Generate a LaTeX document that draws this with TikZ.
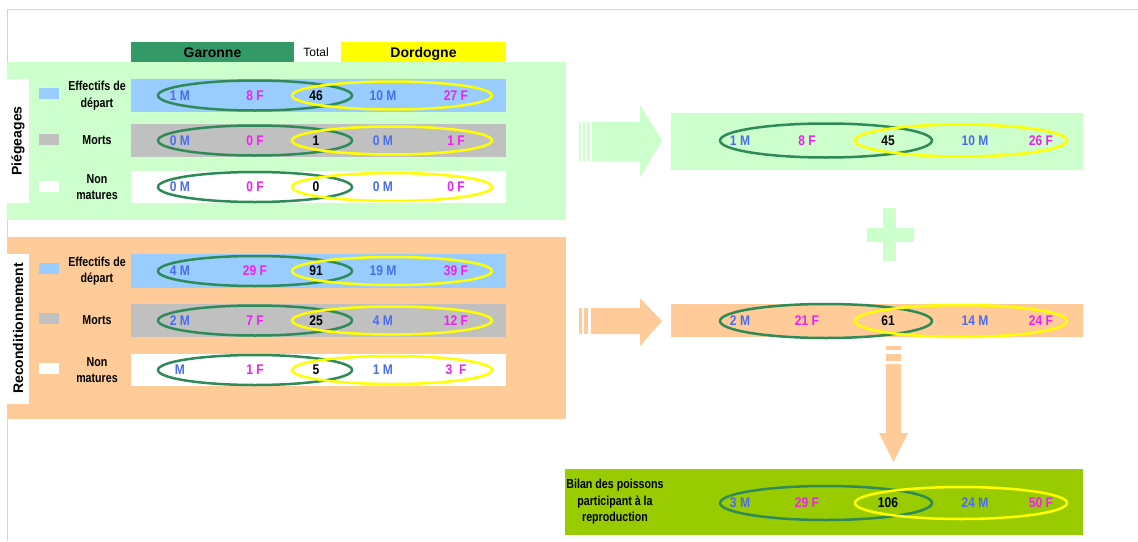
\documentclass[tikz,border=0pt]{standalone}
\usepackage{fontspec}
\setmainfont{Liberation Sans}
\newfontfamily\nar{Liberation Sans}[FakeStretch=0.82]
\newfontfamily\narv{Liberation Sans}[FakeStretch=0.86]
\usetikzlibrary{shapes.geometric}
\definecolor{garg}{HTML}{339966}
\definecolor{gell}{HTML}{2E8B57}
\definecolor{dory}{HTML}{FFFF00}
\definecolor{lgreen}{HTML}{CCFFCC}
\definecolor{lorange}{HTML}{FFCC99}
\definecolor{rowblue}{HTML}{99CCFF}
\definecolor{rowgray}{HTML}{C0C0C0}
\definecolor{bilang}{HTML}{99CC00}
\definecolor{mblue}{HTML}{4A6CF0}
\definecolor{fmag}{HTML}{F020F0}
\definecolor{bordgray}{HTML}{D4D4D4}
\tikzset{
  rowbox/.style={inner sep=0, minimum width=375pt},
  legsq/.style={inner sep=0, minimum width=20pt, minimum height=11pt},
  lbl/.style={font=\nar\bfseries\fontsize{13pt}{16.5pt}\selectfont, align=center, inner sep=0},
  mtxt/.style={font=\narv\bfseries\fontsize{14pt}{14pt}\selectfont, text=mblue, inner sep=0},
  ftxt/.style={font=\narv\bfseries\fontsize{14pt}{14pt}\selectfont, text=fmag, inner sep=0},
  ttxt/.style={font=\narv\bfseries\fontsize{14pt}{14pt}\selectfont, text=black, inner sep=0},
  gel/.style={ellipse, draw=gell, line width=2.5pt, inner sep=0},
  yel/.style={ellipse, draw=dory, line width=2.5pt, inner sep=0},
  vlab/.style={fill=white, inner sep=0, minimum height=22pt, font=\bfseries\fontsize{14pt}{14pt}\selectfont},
  hdr/.style={inner sep=0, minimum height=20pt, text height=10pt, text depth=0pt, font=\bfseries\fontsize{14pt}{14pt}\selectfont}
}
\newcommand{\leftrow}[7]{%
  \node[gel, minimum width=194pt, minimum height=30pt] (#1g) at (255,#2) {};
  \node[yel, minimum width=200pt, minimum height=28pt] (#1y) at (392,#2) {};
  \node[mtxt] (#1a) at (180,#2) {#3};
  \node[ftxt] (#1b) at (255,#2) {#4};
  \node[ttxt] (#1c) at (316,#2) {#5};
  \node[mtxt] (#1d) at (383,#2) {#6};
  \node[ftxt] (#1e) at (456,#2) {#7};
}
\newcommand{\rightrow}[7]{%
  \node[gel, minimum width=212pt, minimum height=34pt] (#1g) at (826,#2) {};
  \node[yel, minimum width=212pt, minimum height=32pt] (#1y) at (961,#2) {};
  \node[mtxt] (#1a) at (740,#2) {#3};
  \node[ftxt] (#1b) at (807,#2) {#4};
  \node[ttxt] (#1c) at (888,#2) {#5};
  \node[mtxt] (#1d) at (975,#2) {#6};
  \node[ftxt] (#1e) at (1041,#2) {#7};
}
\begin{document}
\begin{tikzpicture}[x=1pt,y=-1pt]
\fill[white] (0,0) rectangle (1138,541);
\useasboundingbox (0,0) rectangle (1138,541);
\draw[bordgray, line width=1pt] (7,541) -- (7,9) -- (1138,9);

% header
\node[hdr, fill=garg, minimum width=163pt] (gar) at (212.5,52) {Garonne};
\node[font=\fontsize{12pt}{12pt}\selectfont, inner sep=0] (tot) at (316,52) {Total};
\node[hdr, fill=dory, minimum width=165pt] (dor) at (423.5,52) {Dordogne};

% panels
\node[fill=lgreen, inner sep=0, minimum width=559pt, minimum height=158pt] (pieg) at (286.5,141) {};
\node[fill=lorange, inner sep=0, minimum width=559pt, minimum height=182pt] (recon) at (286.5,328) {};

% Piegeages
\node[vlab, minimum width=124pt, rotate=90] (piegl) at (18,141) {Piégeages};
\node[legsq, fill=rowblue] (pq1) at (49,93.5) {};
\node[legsq, fill=rowgray] (pq2) at (49,139.5) {};
\node[legsq, fill=white] (pq3) at (49,186) {};
\node[lbl] (pl1) at (97,95.5) {Effectifs de\\départ};
\node[lbl] (pl2) at (97,140.5) {Morts};
\node[lbl] (pl3) at (97,187) {Non\\matures};
\node[rowbox, fill=rowblue, minimum height=33pt] (pr1) at (318.5,95.5) {};
\node[rowbox, fill=rowgray, minimum height=33pt] (pr2) at (318.5,140.5) {};
\node[rowbox, fill=white, minimum height=32pt] (pr3) at (318.5,187) {};
\leftrow{pa}{95.5}{1 M}{8 F}{46}{10 M}{27 F}
\leftrow{pb}{140.5}{0 M}{0 F}{1}{0 M}{1 F}
\leftrow{pc}{187}{0 M}{0 F}{0}{0 M}{0 F}

% Reconditionnement
\node[vlab, minimum width=150pt, rotate=90] (reconl) at (18,328.5) {Reconditionnement};
\node[legsq, fill=rowblue] (rq1) at (49,268) {};
\node[legsq, fill=rowgray] (rq2) at (49,318) {};
\node[legsq, fill=white] (rq3) at (49,368) {};
\node[lbl] (rl1) at (97,271) {Effectifs de\\départ};
\node[lbl] (rl2) at (97,320.5) {Morts};
\node[lbl] (rl3) at (97,370) {Non\\matures};
\node[rowbox, fill=rowblue, minimum height=34pt] (rr1) at (318.5,271) {};
\node[rowbox, fill=rowgray, minimum height=33pt] (rr2) at (318.5,320.5) {};
\node[rowbox, fill=white, minimum height=32pt] (rr3) at (318.5,370) {};
\leftrow{ra}{271}{4 M}{29 F}{91}{19 M}{39 F}
\leftrow{rb}{320.5}{2 M}{7 F}{25}{4 M}{12 F}
\leftrow{rc}{370}{M}{1 F}{5}{1 M}{3\ \ F}

% right bands
\node[fill=lgreen, inner sep=0, minimum width=412pt, minimum height=57pt] (band1) at (877,141.5) {};
\rightrow{ba}{140.5}{1 M}{8 F}{45}{10 M}{26 F}
\node[fill=lorange, inner sep=0, minimum width=412pt, minimum height=33pt] (band2) at (877,320.5) {};
\rightrow{bb}{321}{2 M}{21 F}{61}{14 M}{24 F}
\node[fill=bilang, inner sep=0, minimum width=518pt, minimum height=66pt] (bilan) at (824,502) {};
\node[lbl] (bilanl) at (615,502) {Bilan des poissons\\participant à la\\reproduction};
\rightrow{bc}{503}{3 M}{29 F}{106}{24 M}{50 F}

% block arrows
\fill[lgreen] (592,122) -- (640,122) -- (640,105) -- (662,141) -- (640,177) -- (640,161) -- (592,161) -- cycle;
\fill[lgreen] (579,122) rectangle (581,161);
\fill[lgreen] (583,122) rectangle (585,161);
\fill[lgreen] (587,122) rectangle (590,161);

\fill[lorange] (591,308) -- (640,308) -- (640,298) -- (662,321) -- (640,346) -- (640,334) -- (591,334) -- cycle;
\fill[lorange] (579,308) rectangle (582,334);
\fill[lorange] (584,308) rectangle (588,334);

% plus
\fill[lgreen] (883,208) rectangle (896,261);
\fill[lgreen] (867,228) rectangle (914,242);

% down arrow
\fill[lorange] (886,346) rectangle (901,350);
\fill[lorange] (886,354) rectangle (901,361);
\fill[lorange] (886,364) -- (901,364) -- (901,433) -- (908,433) -- (893.5,462) -- (879,433) -- (886,433) -- cycle;
\end{tikzpicture}
\end{document}
